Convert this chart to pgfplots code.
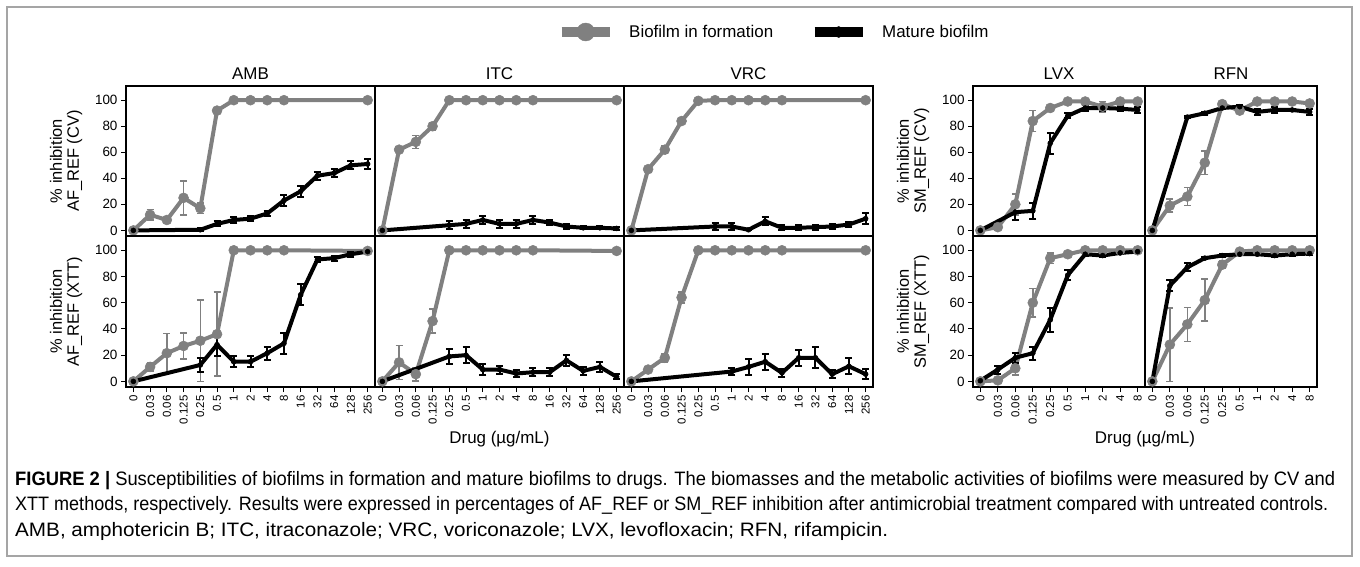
\documentclass[border=0pt]{standalone}
\usepackage{fontspec}
\setmainfont{Liberation Sans}
\setsansfont{Liberation Sans}
\newfontfamily\capfont{Liberation Sans}
\usepackage{graphicx}
\usepackage{pgfplots}
\pgfplotsset{compat=1.18}
\definecolor{gr}{RGB}{128,128,128}
\definecolor{framec}{RGB}{165,165,165}

\pgfplotsset{
  panel/.style={
    scale only axis, anchor=north west,
    ymin=-4.3, ymax=110.9,
    axis line style={line width=1.4bp},
    tick style={black, line width=1bp},
    major tick length=5bp,
    tick align=outside,
    tick pos=left,
    ytick={0,20,40,60,80,100},
    /pgf/number format/assume math mode=true,
    yticklabel style={font=\fontsize{13.5}{14}\selectfont},
    xticklabel style={rotate=90, anchor=east, font=\fontsize{11.5}{11.5}\selectfont},
    ylabel style={align=center, font=\fontsize{16.5}{17}\selectfont},
    ylabel shift=6bp,
    xlabel style={font=\fontsize{17}{18}\selectfont},
    title style={font=\fontsize{17}{18}\selectfont, yshift=-3bp},
    clip=false,
  },
  leftp/.style={panel, width=249bp, xmin=-0.44, xmax=14.44, xtick={0,...,14},
    xticklabels={0,0.03,0.06,0.125,0.25,0.5,1,2,4,8,16,32,64,128,256}},
  rightp/.style={panel, width=172bp, xmin=-0.42, xmax=9.42, xtick={0,...,9},
    xticklabels={0,0.03,0.06,0.125,0.25,0.5,1,2,4,8}},
  toprow/.style={height=150bp, xtick=\empty},
  botrow/.style={height=151bp},
  noy/.style={ytick=\empty},
  gser/.style={gr, line width=4bp, line join=round, mark=*, mark size=5bp,
     mark options={fill=gr, draw=gr, line width=0.5bp}, forget plot,
     error bars/.cd, y dir=both, y explicit, error bar style={gr, line width=1.6bp},
     error mark options={rotate=90, gr, mark size=3.5bp, line width=1.6bp}},
  bser/.style={black, line width=4bp, line join=round, mark=*, mark size=2.5bp,
     mark options={fill=black, draw=black, line width=0.5bp}, forget plot,
     error bars/.cd, y dir=both, y explicit, error bar style={black, line width=2bp},
     error mark options={rotate=90, black, mark size=3.5bp, line width=2bp}},
}

\begin{document}
\begin{tikzpicture}
\useasboundingbox (0,0) rectangle (1360bp,-567bp);
\fill[white] (0,0) rectangle (1360bp,-567bp);
\draw[framec, line width=1.5bp] (7bp,-7bp) rectangle (1352bp,-556bp);

% ---------------- AMB CV
\begin{axis}[leftp, toprow, at={(126bp,-86bp)}, title={AMB},
  ylabel={\% inhibition\\AF\_REF (CV)},
  legend style={at={(axis description cs:1.731,1.36)}, anchor=west, draw=none, fill=none,
    legend columns=2, font=\fontsize{17}{18}\selectfont, inner sep=0pt,
    /tikz/every odd column/.append style={column sep=13bp},
    /tikz/every even column/.append style={column sep=35bp}},
  legend cell align=left]
\addlegendimage{legend image code/.code={\draw[gr, line width=9bp] (0bp,0bp) -- (48bp,0bp); \fill[gr] (24bp,0bp) circle (9bp);}}
\addlegendentry{Biofilm in formation}
\addlegendimage{legend image code/.code={\draw[black, line width=9bp] (0bp,0bp) -- (48bp,0bp); \fill[black] (24bp,0bp) circle (5.5bp);}}
\addlegendentry{Mature biofilm}
\addplot[gser] coordinates {(0,0) +- (0,0) (1,12) +- (0,4) (2,8) +- (0,2) (3,25) +- (0,13) (4,17) +- (0,4) (5,92) +- (0,2) (6,100) +- (0,0) (7,100) +- (0,0) (8,100) +- (0,0) (9,100) +- (0,0) (14,100) +- (0,0)};
\addplot[bser] coordinates {(0,0) +- (0,0) (4,0.5) +- (0,1) (5,5) +- (0,2) (6,8) +- (0,2) (7,9) +- (0,2) (8,13) +- (0,2) (9,23) +- (0,4) (10,30) +- (0,4) (11,42) +- (0,3) (12,44) +- (0,3) (13,50) +- (0,3) (14,51) +- (0,4)};
\end{axis}

% ---------------- ITC CV
\begin{axis}[leftp, toprow, noy, at={(375bp,-86bp)}, title={ITC}]
\addplot[gser] coordinates {(0,0) +- (0,0) (1,62) +- (0,2) (2,68) +- (0,5) (3,80) +- (0,3) (4,100) +- (0,0) (5,100) +- (0,0) (6,100) +- (0,0) (7,100) +- (0,0) (8,100) +- (0,0) (9,100) +- (0,0) (14,100) +- (0,0)};
\addplot[bser] coordinates {(0,0) +- (0,0) (4,4) +- (0,3) (5,5) +- (0,3) (6,8) +- (0,3) (7,5) +- (0,3) (8,5) +- (0,3) (9,8) +- (0,3) (10,6) +- (0,2) (11,3) +- (0,2) (12,2) +- (0,1) (13,2) +- (0,1) (14,1.5) +- (0,1)};
\end{axis}

% ---------------- VRC CV
\begin{axis}[leftp, toprow, noy, at={(624bp,-86bp)}, title={VRC}]
\addplot[gser] coordinates {(0,0) +- (0,0) (1,47) +- (0,2) (2,62) +- (0,3) (3,84) +- (0,2) (4,99.5) +- (0,0) (5,100) +- (0,0) (6,100) +- (0,0) (7,100) +- (0,0) (8,100) +- (0,0) (9,100) +- (0,0) (14,100) +- (0,0)};
\addplot[bser] coordinates {(0,0) +- (0,0) (5,3) +- (0,3) (6,3) +- (0,3) (7,0.5) +- (0,0) (8,7) +- (0,3) (9,2) +- (0,2) (10,2) +- (0,2) (11,2.5) +- (0,2) (12,3) +- (0,2) (13,4.5) +- (0,2) (14,9) +- (0,4)};
\end{axis}

% ---------------- AMB XTT
\begin{axis}[leftp, botrow, at={(126bp,-236bp)},
  ylabel={\% inhibition\\AF\_REF (XTT)}]
\addplot[gser] coordinates {(0,0) +- (0,0) (1,11) +- (0,3) (2,21.5) +- (0,15) (3,27) +- (0,10) (4,31) +- (0,31) (5,36) +- (0,32) (6,100) +- (0,0) (7,100) +- (0,0) (8,100) +- (0,0) (9,100) +- (0,0) (14,99.5) +- (0,0)};
\addplot[bser] coordinates {(0,0) +- (0,0) (4,12.5) +- (0,5) (5,28) +- (0,9) (6,15) +- (0,4) (7,15) +- (0,4) (8,21.5) +- (0,5) (9,29) +- (0,8) (10,66) +- (0,8) (11,93) +- (0,2) (12,94) +- (0,2) (13,97) +- (0,2) (14,99) +- (0,1)};
\end{axis}

% ---------------- ITC XTT
\begin{axis}[leftp, botrow, noy, at={(375bp,-236bp)}, xlabel={Drug (µg/mL)}]
\addplot[gser] coordinates {(0,0) +- (0,0) (1,14.5) +- (0,13) (2,5.5) +- (0,5) (3,46) +- (0,9) (4,100) +- (0,0) (5,100) +- (0,0) (6,100) +- (0,0) (7,100) +- (0,0) (8,100) +- (0,0) (9,100) +- (0,0) (14,99.5) +- (0,0)};
\addplot[bser] coordinates {(0,0) +- (0,0) (4,19) +- (0,6) (5,20) +- (0,6) (6,9) +- (0,4) (7,9) +- (0,3) (8,6) +- (0,3) (9,7) +- (0,3) (10,7) +- (0,3) (11,16) +- (0,4) (12,8) +- (0,3) (13,11) +- (0,4) (14,3.5) +- (0,2)};
\end{axis}

% ---------------- VRC XTT
\begin{axis}[leftp, botrow, noy, at={(624bp,-236bp)}]
\addplot[gser] coordinates {(0,0) +- (0,0) (1,9) +- (0,2) (2,18) +- (0,3) (3,64) +- (0,4) (4,100) +- (0,0) (5,100) +- (0,0) (6,100) +- (0,0) (7,100) +- (0,0) (8,100) +- (0,0) (9,100) +- (0,0) (14,100) +- (0,0)};
\addplot[bser] coordinates {(0,0) +- (0,0) (6,7.5) +- (0,3) (7,11) +- (0,6) (8,15) +- (0,6) (9,6.5) +- (0,3) (10,18) +- (0,6) (11,18) +- (0,8) (12,5.5) +- (0,3) (13,11.5) +- (0,6) (14,5.5) +- (0,4)};
\end{axis}

% ---------------- LVX CV
\begin{axis}[rightp, toprow, at={(973bp,-86bp)}, title={LVX},
  ylabel={\% inhibition\\SM\_REF (CV)}]
\addplot[gser] coordinates {(0,0) +- (0,0) (1,2.5) +- (0,1) (2,20) +- (0,8) (3,84) +- (0,8) (4,94) +- (0,2) (5,99) +- (0,1) (6,99) +- (0,0) (7,95) +- (0,4) (8,99) +- (0,0) (9,99) +- (0,0)};
\addplot[bser] coordinates {(0,0) +- (0,0) (2,14) +- (0,6) (3,15) +- (0,6) (4,67) +- (0,8) (5,88) +- (0,2) (6,94) +- (0,2) (7,94) +- (0,2) (8,93.5) +- (0,2) (9,92.5) +- (0,2)};
\end{axis}

% ---------------- RFN CV
\begin{axis}[rightp, toprow, noy, at={(1145bp,-86bp)}, title={RFN}]
\addplot[gser] coordinates {(0,0) +- (0,0) (1,19) +- (0,5) (2,26) +- (0,7) (3,52) +- (0,9) (4,97) +- (0,2) (5,92) +- (0,2) (6,99) +- (0,0) (7,99) +- (0,0) (8,99) +- (0,0) (9,97.5) +- (0,0)};
\addplot[bser] coordinates {(0,0) +- (0,0) (2,87) +- (0,1) (3,90) +- (0,1) (4,94) +- (0,1) (5,95) +- (0,1) (6,91) +- (0,2) (7,92.5) +- (0,2) (8,92.5) +- (0,1) (9,91) +- (0,2)};
\end{axis}

% ---------------- LVX XTT
\begin{axis}[rightp, botrow, at={(973bp,-236bp)},
  ylabel={\% inhibition\\SM\_REF (XTT)},
  xlabel={Drug (µg/mL)}, xlabel style={at={(ticklabel cs:1)}}]
\addplot[gser] coordinates {(0,0) +- (0,0) (1,0.8) +- (0,0) (2,10) +- (0,5) (3,60) +- (0,11) (4,94) +- (0,4) (5,97) +- (0,2) (6,100) +- (0,0) (7,100) +- (0,0) (8,100) +- (0,0) (9,100) +- (0,0)};
\addplot[bser] coordinates {(0,0.5) +- (0,0) (1,9) +- (0,3) (2,18) +- (0,4) (3,21.5) +- (0,5) (4,47) +- (0,9) (5,81) +- (0,4) (6,97) +- (0,1) (7,96) +- (0,1) (8,98) +- (0,1) (9,99) +- (0,1)};
\end{axis}

% ---------------- RFN XTT
\begin{axis}[rightp, botrow, noy, at={(1145bp,-236bp)}]
\addplot[gser] coordinates {(0,0) +- (0,0) (1,28) +- (0,28) (2,43.5) +- (0,13) (3,62) +- (0,16) (4,89) +- (0,3) (5,99) +- (0,1) (6,100) +- (0,0) (7,100) +- (0,0) (8,100) +- (0,0) (9,100) +- (0,0)};
\addplot[bser] coordinates {(0,0) +- (0,0) (1,73) +- (0,4) (2,87) +- (0,3) (3,94) +- (0,1) (4,96) +- (0,1) (5,97) +- (0,0) (6,97) +- (0,0) (7,96) +- (0,1) (8,97) +- (0,1) (9,97.5) +- (0,1)};
\end{axis}

% ---------------- caption
\begin{scope}[every node/.style={anchor=base west, inner sep=0pt, font=\capfont\fontsize{19.5}{21}\selectfont}]
\node at (15bp,-485bp) {\resizebox{1320bp}{\height}{\textbf{FIGURE 2 |} Susceptibilities of biofilms in formation and mature biofilms to drugs. The biomasses and the metabolic activities of biofilms were measured by CV and}};
\node at (15bp,-510.5bp) {\resizebox{1313bp}{\height}{XTT methods, respectively. Results were expressed in percentages of AF\_REF or SM\_REF inhibition after antimicrobial treatment compared with untreated controls.}};
\node at (15bp,-536bp) {\resizebox{873bp}{\height}{AMB, amphotericin B; ITC, itraconazole; VRC, voriconazole; LVX, levofloxacin; RFN, rifampicin.}};
\end{scope}
\end{tikzpicture}
\end{document}
